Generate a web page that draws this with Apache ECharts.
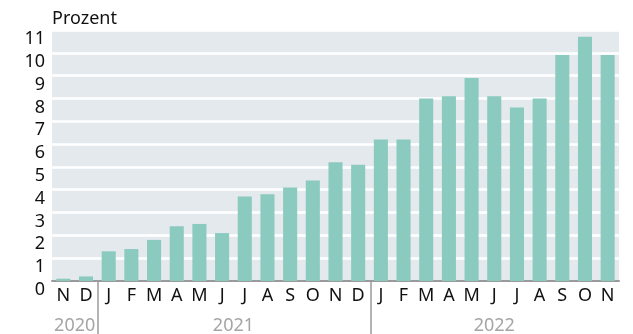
<!DOCTYPE html>
<html><head><meta charset="utf-8">
<script src="https://cdn.jsdelivr.net/npm/echarts@6/dist/echarts.min.js"></script>
<style>html,body{margin:0;padding:0;background:#fff}#c{width:633px;height:334px}</style>
</head><body><div id="c"></div>
<script>
const months = ['N','D','J','F','M','A','M','J','J','A','S','O','N','D','J','F','M','A','M','J','J','A','S','O','N'];
const values = [0.1,0.2,1.3,1.4,1.8,2.4,2.5,2.1,3.7,3.8,4.1,4.4,5.2,5.1,6.2,6.2,8.0,8.1,8.9,8.1,7.6,8.0,9.9,10.7,9.9];
const yearLabels = ['2020','2021','2022'];
const yearStart = [0,2,14];
const yearEnd = [1,13,24];
const yTicks = [0,1,2,3,4,5,6,7,8,9,10,11];

const FONT = '"Noto Sans", sans-serif';
const chart = echarts.init(document.getElementById('c'), null, {renderer:'canvas'});
const option = {
  animation:false,
  grid:{left:52,right:14,top:30,bottom:53,show:true,backgroundColor:'#e4e9ed',borderWidth:0},
  title:{text:'Prozent',left:52,top:10,padding:0,textStyle:{fontFamily:FONT,fontSize:18,fontWeight:'normal',color:'#111'}},
  xAxis:{type:'category',data:months,
    axisLine:{show:true,lineStyle:{color:'#9a9a9a',width:2}},
    axisTick:{show:false},
    axisLabel:{interval:0,margin:6,fontFamily:FONT,fontSize:18,color:'#111',lineHeight:18}},
  yAxis:{type:'value',min:yTicks[0],max:yTicks[yTicks.length-1],interval:1,
    axisLine:{show:false},axisTick:{show:false},
    splitLine:{show:true,lineStyle:{color:'#ffffff',width:2.5}},
    axisLabel:{margin:7,fontFamily:FONT,fontSize:18,color:'#111',verticalAlign:'top',lineHeight:18}},
  series:[{type:'bar',data:values,barCategoryGap:'38%',itemStyle:{color:'#8acabf'},z:2}]
};
chart.setOption(option);

function addYears(){
  const g = [];
  const y0 = chart.convertToPixel({gridIndex:0},[0,0])[1];
  for(let i=0;i<yearLabels.length;i++){
    const a = chart.convertToPixel({xAxisIndex:0},yearStart[i]);
    const b = chart.convertToPixel({xAxisIndex:0},yearEnd[i]);
    g.push({type:'text',x:(a+b)/2,y:317,style:{text:yearLabels[i],fill:'#a5a5a5',font:'18px '+FONT,textAlign:'center',textVerticalAlign:'top'}});
    if(i>0){
      const prev = chart.convertToPixel({xAxisIndex:0},yearStart[i]-1);
      const x = Math.round((a+prev)/2)+1;
      g.push({type:'line',shape:{x1:x,y1:y0,x2:x,y2:334},style:{stroke:'#9a9a9a',lineWidth:1.5}});
    }
  }
  chart.setOption({graphic:g});
}
addYears();
</script></body></html>
